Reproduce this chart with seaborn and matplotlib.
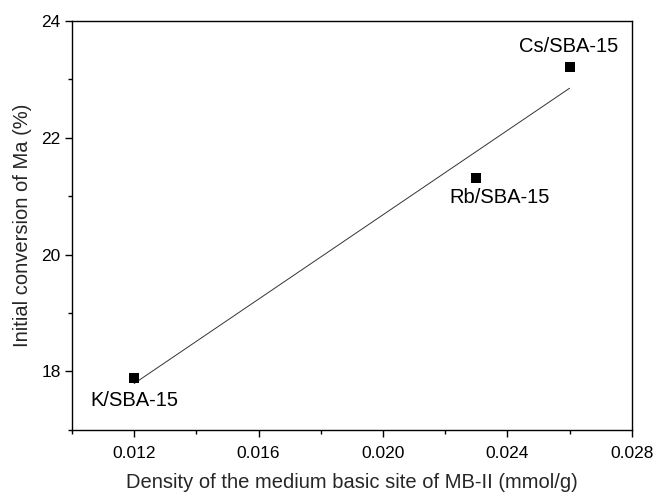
import numpy as np
import pandas as pd
import matplotlib
matplotlib.use("Agg")
import matplotlib.pyplot as plt
import seaborn as sns
from matplotlib.ticker import MultipleLocator, FormatStrFormatter

samples = ["K/SBA-15", "Rb/SBA-15", "Cs/SBA-15"]
density = [0.012, 0.023, 0.026]
conversion = [17.89, 21.31, 23.20]

sns.set_theme(style="ticks")
plt.rcParams["font.family"] = ["Liberation Sans", "DejaVu Sans"]

df = pd.DataFrame({"sample": samples, "density": density, "conversion": conversion})

fig = plt.figure(figsize=(6.54, 4.93), dpi=100)
ax = fig.add_axes([0.110, 0.128, 0.856, 0.830])

sns.regplot(data=df, x="density", y="conversion", ax=ax, ci=None, scatter=False,
            truncate=True, line_kws=dict(color="#333333", lw=0.7))
sns.scatterplot(data=df, x="density", y="conversion", ax=ax, marker="s", s=45,
                color="black", edgecolor="black", linewidth=0, zorder=3)

offsets = {"K/SBA-15": (0, -20), "Rb/SBA-15": (16.5, -18.3),
           "Cs/SBA-15": (-0.5, 10.8)}
for s, x, y in zip(samples, density, conversion):
    dx, dy = offsets[s]
    ax.annotate(s, (x, y), xytext=(dx, dy), textcoords="offset points",
                ha="center", va="baseline", fontsize=14.5, color="black")

ax.set_xlim(0.010, 0.028)
ax.set_ylim(17, 24)
ax.set_xticks(np.arange(0.012, 0.0281, 0.004))
ax.xaxis.set_major_formatter(FormatStrFormatter("%.3f"))
ax.xaxis.set_minor_locator(MultipleLocator(0.002))
ax.set_yticks([18, 20, 22, 24])
ax.yaxis.set_minor_locator(MultipleLocator(1))

for sp in ax.spines.values():
    sp.set_visible(True)
    sp.set_linewidth(1.0)
    sp.set_color("black")

ax.tick_params(axis="both", which="major", direction="out", length=5, width=1,
               labelsize=12.5, color="black", labelcolor="black", top=False, right=False)
ax.tick_params(axis="x", which="major", pad=6.5)
ax.tick_params(axis="y", which="major", pad=3)
ax.tick_params(axis="both", which="minor", direction="out", length=3, width=1,
               color="black", top=False, right=False)

ax.set_xlabel("Density of the medium basic site of MB-II (mmol/g)", fontsize=14.5, labelpad=8.5)
ax.set_ylabel("Initial conversion of Ma (%)", fontsize=14.5, labelpad=6.5)

fig.savefig("out.png", dpi=100)
